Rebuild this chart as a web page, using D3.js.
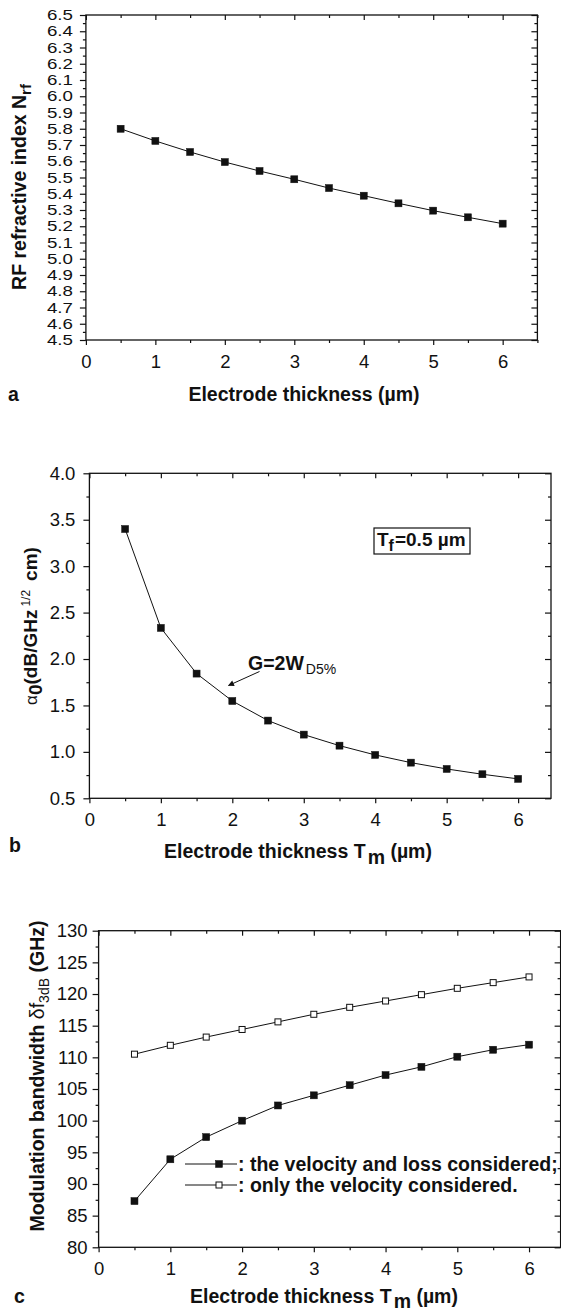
<!DOCTYPE html>
<html>
<head>
<meta charset="utf-8">
<script src="https://cdn.jsdelivr.net/npm/d3@7.9.0/dist/d3.min.js"></script>
<style>
  body { margin: 0; background: #fff; }
  svg { display: block; font-family: "Liberation Sans", Arial, Helvetica, sans-serif; }
</style>
</head>
<body>
<svg id="chart" width="561" height="1313"></svg>
<script>
// electrode thickness (um) shared by all three panels
const thickness = [0.5, 1, 1.5, 2, 2.5, 3, 3.5, 4, 4.5, 5, 5.5, 6];

// (a) RF refractive index
const rfIndex = [5.80, 5.725, 5.657, 5.595, 5.54, 5.489, 5.435, 5.388, 5.341, 5.296, 5.255, 5.216];
// (b) loss coefficient alpha0
const alpha0 = [3.40, 2.335, 1.843, 1.548, 1.337, 1.186, 1.067, 0.967, 0.884, 0.816, 0.759, 0.709];
// (c) modulation bandwidth
const bwLoss = [87.3, 93.9, 97.4, 100.0, 102.4, 104.0, 105.6, 107.2, 108.5, 110.1, 111.2, 112.0];
const bwVelocity = [110.5, 111.9, 113.2, 114.4, 115.6, 116.8, 117.9, 118.9, 119.9, 120.9, 121.8, 122.7];

const xTicks = [0, 1, 2, 3, 4, 5, 6];
const rfTicks = [4.5, 4.6, 4.7, 4.8, 4.9, 5.0, 5.1, 5.2, 5.3, 5.4, 5.5, 5.6, 5.7, 5.8, 5.9, 6.0, 6.1, 6.2, 6.3, 6.4, 6.5];
const alphaTicks = [0.5, 1.0, 1.5, 2.0, 2.5, 3.0, 3.5, 4.0];
const bwTicks = [80, 85, 90, 95, 100, 105, 110, 115, 120, 125, 130];

const legendLabels = [': the velocity and loss considered;', ': only the velocity considered.'];

const ink = '#111';
const svg = d3.select('#chart');

function panel(o) {
  const x = d3.scaleLinear().domain([0, o.xMax]).range([o.left, o.right]);
  const y = d3.scaleLinear().domain([o.yTicks[0], o.yTicks[o.yTicks.length - 1]]).range([o.bottom, o.top]);
  const g = svg.append('g');
  const mid = t => d3.pairs(t).map(([a, b]) => (a + b) / 2);
  const xMinor = mid(xTicks).concat([6.5]).filter(v => v <= o.xMax + 0.01);
  const yMinor = mid(o.yTicks);

  // left / bottom: ticks outside with labels; top / right: ticks inside
  g.append('g').attr('class', 'xlab').attr('transform', `translate(0,${o.bottom})`)
    .call(d3.axisBottom(x).tickValues(xTicks).tickSize(5).tickPadding(10).tickFormat(d3.format('d')));
  g.append('g').attr('transform', `translate(0,${o.bottom})`)
    .call(d3.axisBottom(x).tickValues(xMinor).tickSize(3).tickFormat(''));
  g.append('g').attr('transform', `translate(0,${o.top})`)
    .call(d3.axisTop(x).tickValues(xTicks).tickSize(-5).tickFormat(''));
  g.append('g').attr('transform', `translate(0,${o.top})`)
    .call(d3.axisTop(x).tickValues(xMinor).tickSize(-3).tickFormat(''));

  g.append('g').attr('class', 'ylab').attr('transform', `translate(${o.left},0)`)
    .call(d3.axisLeft(y).tickValues(o.yTicks).tickSize(6).tickPadding(o.yPad).tickFormat(o.fmt));
  g.append('g').attr('transform', `translate(${o.left},0)`)
    .call(d3.axisLeft(y).tickValues(yMinor).tickSize(3).tickFormat(''));
  g.append('g').attr('transform', `translate(${o.right},0)`)
    .call(d3.axisRight(y).tickValues(o.yTicks).tickSize(-6).tickFormat(''));
  g.append('g').attr('transform', `translate(${o.right},0)`)
    .call(d3.axisRight(y).tickValues(yMinor).tickSize(-3).tickFormat(''));

  g.selectAll('.domain').remove();
  g.selectAll('.tick line').attr('stroke', ink).attr('stroke-width', 1.2);
  g.selectAll('.tick text').attr('fill', ink)
    .style('font-family', '"Liberation Sans", Arial, sans-serif');
  g.selectAll('.xlab .tick text').style('font-size', '18.5px');
  g.selectAll('.ylab .tick text').style('font-size', o.yFont + 'px');
  if (o.yStretch) {
    // crowded labels: narrower height, stretched wide like the original
    g.selectAll('.ylab .tick text')
      .attr('x', -(6 + o.yPad) / o.yStretch)
      .attr('transform', `scale(${o.yStretch},1)`);
  }

  g.append('rect')
    .attr('x', o.left).attr('y', o.top)
    .attr('width', o.right - o.left).attr('height', o.bottom - o.top)
    .attr('fill', 'none').attr('stroke', ink).attr('stroke-width', 1.3);

  const line = d3.line().x((d, i) => x(thickness[i])).y(d => y(d));
  o.series.forEach(s => {
    g.append('path').datum(s.values).attr('d', line)
      .attr('fill', 'none').attr('stroke', ink).attr('stroke-width', 1);
    g.selectAll(null).data(s.values).join('rect')
      .attr('x', (d, i) => x(thickness[i]) - s.size / 2)
      .attr('y', d => y(d) - s.size / 2)
      .attr('width', s.size).attr('height', s.size)
      .attr('fill', s.filled ? ink : '#fff')
      .attr('stroke', ink).attr('stroke-width', s.filled ? 0.5 : 1);
  });

  // panel letter
  g.append('text').attr('x', o.letterX).attr('y', o.letterY)
    .attr('font-weight', 'bold').attr('font-size', 19.5).attr('fill', ink).text(o.letter);

  return { x, y, g };
}

// ---------- (a)
const pa = panel({
  left: 85.9, right: 537.4, top: 15, bottom: 340, xMax: 6.5,
  yTicks: rfTicks, yPad: 7, yFont: 14.4, yStretch: 1.3, fmt: d3.format('.1f'),
  series: [{ values: rfIndex, filled: true, size: 7 }],
  letter: 'a', letterX: 8, letterY: 401
});
{
  pa.g.append('text').attr('x', 304).attr('y', 401).attr('text-anchor', 'middle')
    .attr('font-size', 19.5).attr('font-weight', 'bold').attr('fill', ink)
    .text('Electrode thickness (\u00b5m)');

  const yt = pa.g.append('text').attr('transform', 'translate(26,187) rotate(-90)')
    .attr('text-anchor', 'middle').attr('font-size', 19.5).attr('font-weight', 'bold').attr('fill', ink);
  yt.append('tspan').text('RF refractive index N');
  yt.append('tspan').attr('dy', 5).attr('font-size', 15).text('rf');
}

// ---------- (b)
const pb = panel({
  left: 89.4, right: 551, top: 473.3, bottom: 798.3, xMax: 6.46,
  yTicks: alphaTicks, yPad: 8, yFont: 18.5, fmt: d3.format('.1f'),
  series: [{ values: alpha0, filled: true, size: 7 }],
  letter: 'b', letterX: 9, letterY: 852
});
{
  const t = pb.g.append('text').attr('x', 298).attr('y', 858).attr('text-anchor', 'middle')
    .attr('font-size', 19.5).attr('font-weight', 'bold').attr('fill', ink);
  t.append('tspan').text('Electrode thickness T');
  t.append('tspan').attr('dy', 6).attr('dx', 2).text('m');
  t.append('tspan').attr('dy', -6).text(' (\u00b5m)');

  const yt = pb.g.append('text').attr('transform', 'translate(37,626) rotate(-90)')
    .attr('text-anchor', 'middle').attr('font-size', 19).attr('fill', ink);
  yt.append('tspan').attr('font-size', 17).text('\u03b1');
  yt.append('tspan').attr('font-weight', 'bold').attr('dy', 5).text('0');
  yt.append('tspan').attr('font-weight', 'bold').attr('dy', -5).text('(dB/GHz');
  yt.append('tspan').attr('font-size', 12).attr('dy', -7).attr('dx', 3).text('1/2');
  yt.append('tspan').attr('font-weight', 'bold').attr('dy', 7).attr('dx', 9).text('cm)');

  // thickness note
  pb.g.append('rect').attr('x', 374).attr('y', 528).attr('width', 96).attr('height', 26)
    .attr('fill', '#fff').attr('stroke', ink).attr('stroke-width', 1.2);
  const tf = pb.g.append('text').attr('x', 377).attr('y', 546)
    .attr('font-size', 19).attr('font-weight', 'bold').attr('fill', ink);
  tf.append('tspan').text('T');
  tf.append('tspan').attr('dy', 5).attr('font-size', 16).text('f');
  tf.append('tspan').attr('dy', -5).attr('dx', 1).text('=0.5 \u00b5m');

  // gap annotation with arrow
  svg.append('defs').append('marker').attr('id', 'head')
    .attr('viewBox', '0 0 10 10').attr('refX', 9).attr('refY', 5)
    .attr('markerWidth', 8).attr('markerHeight', 6).attr('orient', 'auto')
    .append('path').attr('d', 'M0,0L10,5L0,10z').attr('fill', ink);
  pb.g.append('line').attr('x1', 259.5).attr('y1', 671.5).attr('x2', 228.5).attr('y2', 685.5)
    .attr('stroke', ink).attr('stroke-width', 1).attr('marker-end', 'url(#head)');
  const ga = pb.g.append('text').attr('x', 248).attr('y', 670)
    .attr('font-size', 19.5).attr('fill', ink);
  ga.append('tspan').attr('font-weight', 'bold').text('G=2W');
  ga.append('tspan').attr('font-size', 14).attr('dy', 4).attr('dx', 2).text('D5%');
}

// ---------- (c)
const pc = panel({
  left: 98.6, right: 560.6, top: 930.7, bottom: 1247.3, xMax: 6.44,
  yTicks: bwTicks, yPad: 5, yFont: 18.5, fmt: d3.format('d'),
  series: [
    { values: bwVelocity, filled: false, size: 6 },
    { values: bwLoss, filled: true, size: 7 }
  ],
  letter: 'c', letterX: 14, letterY: 1303
});
{
  const t = pc.g.append('text').attr('x', 324).attr('y', 1303).attr('text-anchor', 'middle')
    .attr('font-size', 19.5).attr('font-weight', 'bold').attr('fill', ink);
  t.append('tspan').text('Electrode thickness T');
  t.append('tspan').attr('dy', 5).attr('dx', 2).text('m');
  t.append('tspan').attr('dy', -5).text(' (\u00b5m)');

  const yt = pc.g.append('text').attr('transform', 'translate(44,1076) rotate(-90)')
    .attr('text-anchor', 'middle').attr('font-size', 19.5).attr('fill', ink);
  yt.append('tspan').attr('font-weight', 'bold').text('Modulation bandwidth ');
  yt.append('tspan').text('\u03b4f');
  yt.append('tspan').attr('font-size', 14).attr('dy', 5).text('3dB');
  yt.append('tspan').attr('font-weight', 'bold').attr('dy', -5).text(' (GHz)');

  // legend
  const rows = [
    { label: legendLabels[0], filled: true, y: 1164 },
    { label: legendLabels[1], filled: false, y: 1185 }
  ];
  rows.forEach(r => {
    pc.g.append('line').attr('x1', 185).attr('x2', 237).attr('y1', r.y).attr('y2', r.y)
      .attr('stroke', ink).attr('stroke-width', 1);
    const s = r.filled ? 7 : 6;
    pc.g.append('rect').attr('x', 219 - s / 2).attr('y', r.y - s / 2).attr('width', s).attr('height', s)
      .attr('fill', r.filled ? ink : '#fff').attr('stroke', ink).attr('stroke-width', r.filled ? 0.5 : 1);
    pc.g.append('text').attr('x', 238).attr('y', r.y + 7)
      .attr('font-size', 19.5).attr('font-weight', 'bold').attr('fill', ink).text(r.label);
  });
}
</script>
</body>
</html>
